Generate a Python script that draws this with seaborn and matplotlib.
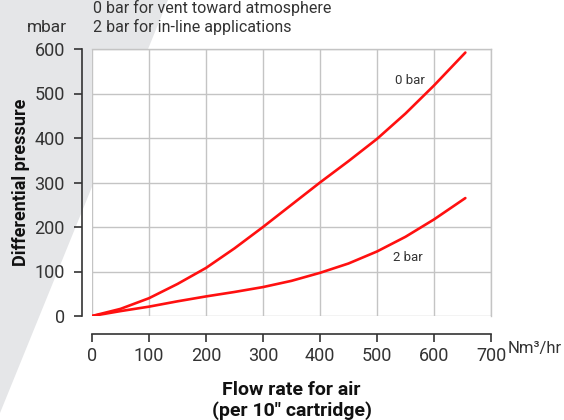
import matplotlib
matplotlib.use("Agg")
import matplotlib.pyplot as plt
import seaborn as sns
import pandas as pd
from matplotlib.patches import Polygon

# values
flow = [0, 50, 100, 150, 200, 250, 300, 350, 400, 450, 500, 550, 600, 655]
dp_0bar = [0, 16, 40, 72, 108, 152, 200, 250, 300, 348, 398, 455, 518, 592]
dp_2bar = [0, 11, 21, 33, 44, 54, 65, 79, 97, 118, 145, 178, 217, 265]
x_ticks = [0, 100, 200, 300, 400, 500, 600, 700]
y_ticks = [0, 100, 200, 300, 400, 500, 600]

df = pd.concat([
    pd.DataFrame({"flow": flow, "dp": dp_0bar, "line": "0 bar"}),
    pd.DataFrame({"flow": flow, "dp": dp_2bar, "line": "2 bar"}),
])

sns.set_theme(style="white")
plt.rcParams["font.family"] = ["Roboto", "DejaVu Sans"]
dark = "#333333"
grid = "#c4c4c4"

fig = plt.figure(figsize=(5.64, 4.2), dpi=100)
fig.patch.set_facecolor("white")

# grey diagonal band behind everything
fig.patches.append(Polygon([(0, 1), (168 / 564, 1), (0, 1 - 413 / 420)],
                           closed=True, transform=fig.transFigure,
                           facecolor="#e5e6e8", edgecolor="none", zorder=-5))

ax = fig.add_axes([92 / 564, 1 - 316 / 420, 399 / 564, 267 / 420])
ax.set_facecolor("white")
ax.set_zorder(2)

sns.lineplot(data=df, x="flow", y="dp", units="line", estimator=None,
             color="#ff1010", linewidth=1.9, ax=ax, zorder=3)

ax.set_xlim(0, 700)
ax.set_ylim(0, 600)
ax.set_xticks(x_ticks)
ax.set_yticks(y_ticks)
ax.grid(True, color=grid, linewidth=1.0)
for gl in ax.get_xgridlines() + ax.get_ygridlines():
    gl.set_clip_on(False)

for side in ["top", "right"]:
    ax.spines[side].set_color(grid)
    ax.spines[side].set_linewidth(1.0)
ax.spines["left"].set_position(("outward", 7))
ax.spines["bottom"].set_position(("outward", 13))
for side in ["left", "bottom"]:
    ax.spines[side].set_color(dark)
    ax.spines[side].set_linewidth(1.2)

ax.tick_params(axis="both", which="major", direction="out", length=6,
               width=1.2, color=dark, labelcolor=dark, labelsize=13,
               left=True, bottom=True)
ax.tick_params(axis="y", pad=6.5)
ax.tick_params(axis="x", pad=3)

ax.set_xlabel("Flow rate for air\n(per 10\u2033 cartridge)", fontsize=14,
              fontweight="bold", color="#111111", labelpad=12,
              linespacing=1.1)
ax.set_ylabel("Differential pressure", fontsize=13, fontweight="bold",
              color="#111111", labelpad=3)

ax.text(557, 530, "0 bar", fontsize=9.5, color=dark, ha="center", va="center")
ax.text(555, 131, "2 bar", fontsize=9.5, color=dark, ha="center", va="center")

fig.text(508 / 564, 1 - 349 / 420, "Nm\u00b3/hr", fontsize=12, color=dark,
         ha="left", va="center")
fig.text(67 / 564, 1 - 27 / 420, "mbar", fontsize=12.5, color=dark,
         ha="right", va="center")
fig.text(93 / 564, 1 - 8 / 420, "0 bar for vent toward atmosphere",
         fontsize=11.5, color=dark, ha="left", va="center")
fig.text(93 / 564, 1 - 27 / 420, "2 bar for in-line applications",
         fontsize=11.5, color=dark, ha="left", va="center")

fig.savefig("out.png", dpi=100)
